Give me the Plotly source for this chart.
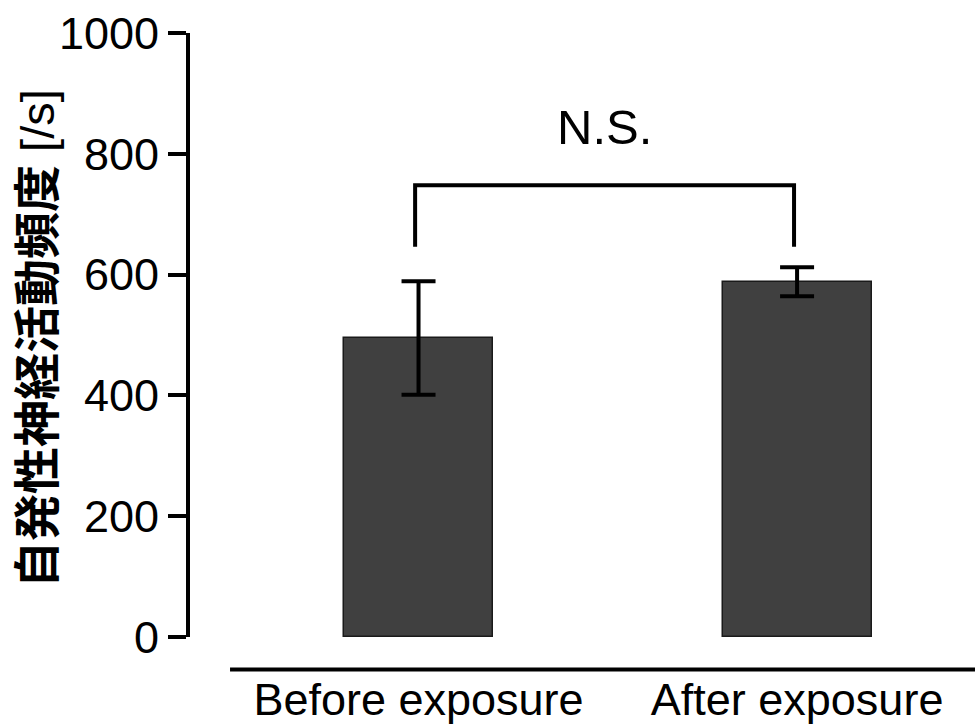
import plotly.graph_objects as go

# Spontaneous sympathetic nerve activity, before vs after exposure
categories = ["Before exposure", "After exposure"]
means = [495, 588]
errors = [94, 24]
positions = [0, 1]

y_ticks = [0, 200, 400, 600, 800, 1000]
y_title = "<b>自発性神経活動頻度</b> [/s]"
sig_label = "N.S."
bracket_top = 748
bracket_bottom = 646

latin = "Liberation Sans, Arial, Helvetica, sans-serif"
cjk = "Liberation Sans, Noto Sans CJK JP, sans-serif"

fig = go.Figure()
fig.add_trace(go.Bar(
    x=positions,
    y=means,
    width=0.394,
    marker=dict(color="#404040", line=dict(color="#1a1a1a", width=1.5)),
    error_y=dict(type="data", array=errors, visible=True,
                 color="black", thickness=4, width=17),
    showlegend=False,
))

# significance bracket between the two bars
fig.add_shape(
    type="path",
    path=(f"M {-0.009} {bracket_bottom} L {-0.009} {bracket_top} "
          f"L {0.992} {bracket_top} L {0.992} {bracket_bottom}"),
    xref="x", yref="y",
    line=dict(color="black", width=4),
)
fig.add_annotation(
    x=0.4915, y=bracket_top + 97, xref="x", yref="y",
    text=sig_label, showarrow=False,
    font=dict(family=latin, size=49, color="black"),
    xanchor="center", yanchor="middle",
)

# detached baseline under the categories
fig.add_shape(
    type="line", xref="paper", yref="paper",
    x0=0.051, x1=1.0, y0=-0.0538, y1=-0.0538,
    line=dict(color="black", width=4),
)

# vertical axis title
fig.add_annotation(
    x=-0.195, y=0.495, xref="paper", yref="paper",
    text=y_title, showarrow=False, textangle=-90,
    font=dict(family=cjk, size=47, color="black"),
    xanchor="center", yanchor="middle",
)

fig.update_layout(
    width=975, height=726,
    margin=dict(l=190, r=0, t=33, b=89, autoexpand=False),
    paper_bgcolor="white", plot_bgcolor="white",
    bargap=0,
    font=dict(family=latin, size=45, color="black"),
    xaxis=dict(
        range=[-0.6037, 1.470],
        tickmode="array", tickvals=positions, ticktext=categories,
        showline=False, showgrid=False, zeroline=False,
        ticks="", ticklabelstandoff=32, automargin=False,
        tickfont=dict(family=latin, size=45, color="black"),
    ),
    yaxis=dict(
        range=[0, 1000],
        tickmode="array", tickvals=y_ticks,
        showline=True, linecolor="black", linewidth=4,
        ticks="outside", ticklen=18, tickwidth=4, tickcolor="black",
        showgrid=False, zeroline=False, automargin=False,
        ticklabelstandoff=0,
        tickfont=dict(family=latin, size=45, color="black"),
    ),
)

fig.write_html("out.html")
